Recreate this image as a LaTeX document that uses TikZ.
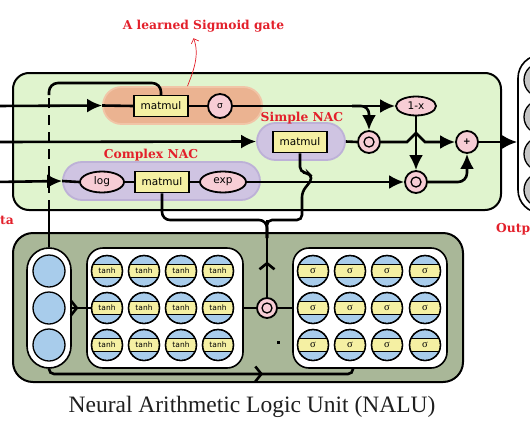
\documentclass[tikz,border=0pt]{standalone}
\usepackage{fontspec}
\setmainfont{Liberation Serif}
\newfontfamily\redfont{DejaVu Serif}
\newfontfamily\sansbox{DejaVu Sans}
\usetikzlibrary{arrows.meta,shapes.geometric,shapes.misc,decorations.markings,calc}
\definecolor{gbg}{HTML}{E0F4CE}
\definecolor{lowbg}{HTML}{A9B798}
\definecolor{orfill}{HTML}{EBB391}
\definecolor{ordraw}{HTML}{F1C5A7}
\definecolor{lavfill}{HTML}{CFC4E2}
\definecolor{lavdraw}{HTML}{BDB1D7}
\definecolor{yelc}{HTML}{F5F0A3}
\definecolor{pinkc}{HTML}{F7CDD5}
\definecolor{lblue}{HTML}{A8CCEB}
\definecolor{greyc}{HTML}{C6C6C6}
\definecolor{redc}{HTML}{E3202B}
\begin{document}
\begin{tikzpicture}[x=1pt,y=-1pt,
  wire/.style={line width=2.6pt},
  arr/.style={wire,-{Latex[length=15pt,width=14pt]}},
  midarr/.style={postaction={decorate},decoration={markings,mark=at position #1 with {\arrow{Straight Barb[length=6pt,width=15pt]}}}},
  ybox/.style={draw,line width=1.5pt,fill=yelc,minimum width=54pt,minimum height=21pt,inner sep=0pt,font=\sansbox\fontsize{10.5}{12}\selectfont},
  pinkell/.style={ellipse,draw,line width=1.8pt,fill=pinkc,inner sep=0pt,font=\sansbox\fontsize{10.5}{12}\selectfont},
  opc/.style={circle,draw,line width=1.8pt,fill=pinkc,inner sep=0pt,minimum size=22pt,font=\sansbox\bfseries\fontsize{9}{10}\selectfont},
  odot/.style={opc,path picture={\draw[line width=1.3pt] (path picture bounding box.center) circle[radius=5pt]; \fill (path picture bounding box.center) circle[radius=1.8pt];}},
  pill/.style={rounded rectangle,line width=1.8pt,inner sep=0pt},
  container/.style={draw,line width=2pt,inner sep=0pt},
  neu/.style={circle,draw,line width=1.3pt,fill=lblue,minimum size=31pt,inner sep=0pt},
  bneu/.style={neu,path picture={
      \fill[yelc] ([yshift=-6.5pt]path picture bounding box.west) rectangle ([yshift=6.5pt]path picture bounding box.east);
      \draw[line width=1.2pt] ([yshift=-6.5pt]path picture bounding box.west) -- ([yshift=-6.5pt]path picture bounding box.east);
      \draw[line width=1.2pt] ([yshift=6.5pt]path picture bounding box.west) -- ([yshift=6.5pt]path picture bounding box.east);},
    postaction={draw,line width=1.3pt}},
  redlbl/.style={text=redc,font=\redfont\bfseries\fontsize{12.3}{14}\selectfont,inner sep=1pt}
]
\useasboundingbox (0,0) rectangle (530,442);

% containers
\node[container,fill=gbg,rounded corners=16pt,minimum width=488pt,minimum height=137pt] (green) at (257,141.5) {};
\node[container,fill=lowbg,rounded corners=20pt,minimum width=450pt,minimum height=149pt] (lower) at (238,307.5) {};

% output column
\node[draw,line width=1.6pt,fill=white,rounded corners=23pt,minimum width=46pt,minimum height=158pt,inner sep=0pt] (outpill) at (541,134) {};
\foreach \i/\y in {1/80,2/117,3/154,4/190}
  \node[neu,fill=greyc,minimum size=34pt] (o\i) at (541,\y) {};

% pills
\node[pill,fill=orfill,draw=ordraw,minimum width=159pt,minimum height=37pt] (gate) at (182.5,105.5) {};
\node[pill,fill=lavfill,draw=lavdraw,minimum width=88pt,minimum height=37pt] (spill) at (301,141.5) {};
\node[pill,fill=lavfill,draw=lavdraw,minimum width=197pt,minimum height=38pt] (cpill) at (161.5,181) {};

% operation nodes
\node[ybox] (gm) at (161,106) {matmul};
\node[opc,minimum size=24pt,font=\sansbox\fontsize{9}{10}\selectfont] (gs) at (220,106) {σ};
\node[pinkell,minimum width=40pt,minimum height=19pt] (onemx) at (416,106) {1-x};
\node[ybox] (sm) at (300,142) {matmul};
\node[odot] (od1) at (369,142) {};
\node[opc] (plus) at (467,142) {+};
\node[odot] (od2) at (416,182) {};
\node[pinkell,minimum width=44pt,minimum height=21pt] (log) at (102,182) {log};
\node[ybox] (cm) at (162,182) {matmul};
\node[pinkell,minimum width=46pt,minimum height=21pt] (exp) at (223,182) {exp};

% labels
\node[redlbl] (siglbl) at (203.5,26) {A learned Sigmoid gate};
\node[redlbl] (slbl) at (302,118) {Simple NAC};
\node[redlbl] (clbl) at (151,155) {Complex NAC};
\node[redlbl,anchor=west,inner sep=0pt] (datalbl) at (0,220) {ta};
\node[redlbl,anchor=west,inner sep=0pt] (outlbl) at (496,229) {Outp};

% lower network
\node[draw,line width=1.6pt,fill=white,rounded corners=22pt,minimum width=44pt,minimum height=120pt,inner sep=0pt] (incol) at (49,308) {};
\foreach \i/\y in {1/271,2/308,3/345}
  \node[neu,minimum size=32pt] (x\i) at (49,\y) {};
\node[draw,line width=1.6pt,fill=white,rounded corners=16pt,minimum width=156pt,minimum height=120pt,inner sep=0pt] (tbox) at (165,308) {};
\node[draw,line width=1.6pt,fill=white,rounded corners=16pt,minimum width=154pt,minimum height=120pt,inner sep=0pt] (sbox) at (370,308) {};
\foreach \c/\x in {1/107,2/144,3/181,4/218}
  \foreach \r/\y in {1/271,2/308,3/345}
    \node[bneu,font=\sansbox\fontsize{7.5}{8}\selectfont] (t\r\c) at (\x,\y) {tanh};
\foreach \c/\x in {1/313,2/350,3/387,4/425}
  \foreach \r/\y in {1/271,2/308,3/345}
    \node[bneu,font=\fontsize{10.5}{11}\selectfont] (s\r\c) at (\x,\y) {σ};
\node[odot,minimum size=20pt] (od3) at (267,308) {};
\fill (277,341) rectangle (280,344);

% coordinates
\coordinate (in1) at (-5,106);
\coordinate (in2) at (-5,142);
\coordinate (in3) at (-5,182);
\coordinate (br1) at (352,106);
\coordinate (h1) at (407,142);
\coordinate (h2) at (416,133);
\coordinate (h3) at (425,142);
\coordinate (d1) at (49,210);
\coordinate (d2) at (49,95);
\coordinate (lp) at (49,83);
\coordinate (j) at (267,220);
\coordinate (jd) at (267,238);
\coordinate (s1) at (300,172);
\coordinate (s2) at (308,173);
\coordinate (s3) at (313,178);
\coordinate (s4) at (302,192);
\coordinate (b1) at (353,374);

% top wires
\draw[arr] (in1) -- (gate.west);
\draw[wire] (gate.west) -- (gm.west);
\draw[wire] (gm.east) -- (gs.west);
\draw[arr] (gs.east) -- (onemx.west);
\draw[arr,rounded corners=8pt] (br1) -| (od1.north);
\draw[arr] (in2) -- (spill.west);
\draw[wire] (spill.east) -- (od1.west);
\draw[arr] (od1.east) -- (h1) -- (h2) -- (h3) -- (plus.west);
\draw[arr] (onemx.south) -- (od2.north);
\draw[arr] (in3) -- (cpill.west);
\draw[wire] (cpill.west) -- (log.west);
\draw[wire] (log.east) -- (cm.west);
\draw[wire] (cm.east) -- (exp.west);
\draw[arr] (exp.east) -- (od2.west);
\draw[arr,rounded corners=9pt] (od2.east) -| (plus.south);
\draw[arr] (plus.east) -- (plus.east -| outpill.west);

% gate input from lower column
\draw[wire] (incol.north) -- (d1);
\draw[wire,dash pattern=on 10pt off 7pt] (d1) -- (d2);
\draw[wire,rounded corners=9pt] (d2) -- (lp) -- (lp -| gm.north) -- (gm.north);

% weights brace
\draw[wire,rounded corners=8pt] (cm.south) |- (j) -- (jd);
\draw[wire,rounded corners=5pt] (sm.south) -- (s1) -- (s2) -- (s3) -- (s4) |- (j) -- (jd);
\draw[wire,midarr=0.46] (od3.north) -- (j);

% lower wires
\draw[wire,midarr=0.35] (incol.east) -- (incol.east -| t21.west);
\draw[wire] (tbox.east) -- (od3.west);
\draw[wire] (od3.east) -- (sbox.west);
\draw[wire,rounded corners=5pt,midarr=0.7] (incol.south) |- (b1) -- (b1 |- sbox.south);

% annotation arrow
\draw[redc,line width=0.7pt,-{Straight Barb[length=4pt,width=8pt]}] ([xshift=5pt]gate.north) .. controls (193,72) and (200,55) .. ([xshift=-10pt,yshift=-5pt]siglbl.south);

% caption
\node[anchor=base,font=\fontsize{23.5}{28}\selectfont,text=black!88,inner sep=0pt] (cap) at (252,412) {Neural Arithmetic Logic Unit (NALU)};
\end{tikzpicture}
\end{document}
